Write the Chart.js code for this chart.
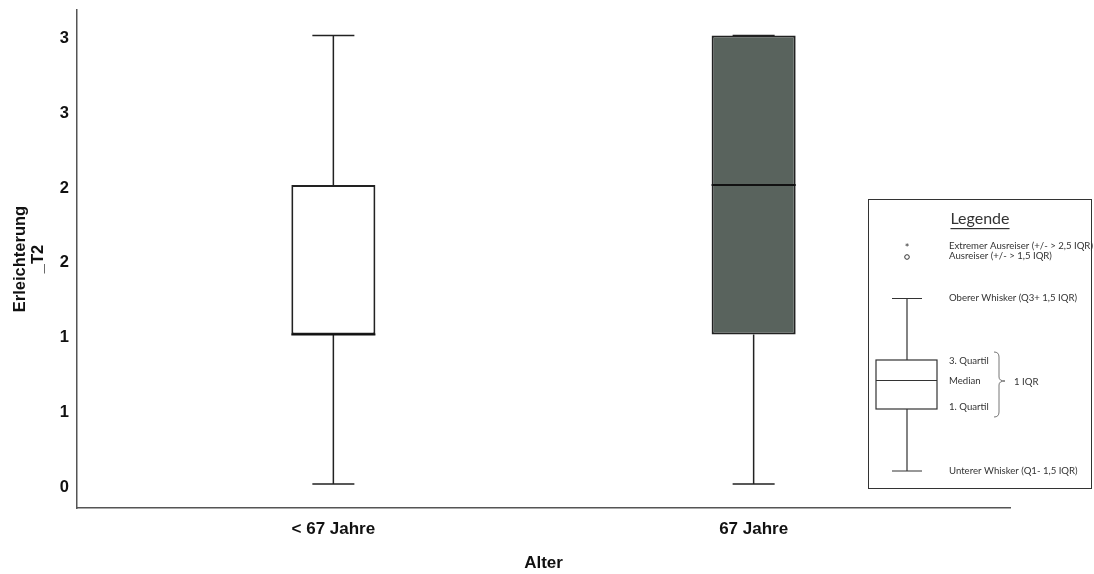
<!DOCTYPE html>
<html>
<head>
<meta charset="utf-8">
<script src="https://cdn.jsdelivr.net/npm/chart.js@4.4.1/dist/chart.umd.min.js"></script>
<style>
  html, body { margin: 0; padding: 0; background: #fff; }
  #wrap { width: 1094px; height: 574px; }
</style>
</head>
<body>
<div id="wrap"><canvas id="c" width="1094" height="574"></canvas></div>
<script>
// Age groups and the five-number summary of Erleichterung_T2 per group
const categories = ['< 67 Jahre', '67 Jahre'];
const whiskerLow  = [0, 0];
const quartile1   = [1, 1];
const medians     = [1, 2];
const quartile3   = [2, 3];
const whiskerHigh = [3, 3];
const boxColors   = ['#ffffff', '#59635d'];

// Y ticks every half unit, labelled with rounded values
const yTickValues = [0, 0.5, 1, 1.5, 2, 2.5, 3];
const yTickLabels = ['0', '1', '1', '2', '2', '3', '3'];

const boxData = categories.map((c, i) => ({ x: i, y: [quartile1[i], quartile3[i]] }));

const LINE = '#222222';

// Whiskers, caps and median lines drawn through the chart scales
const whiskerPlugin = {
  id: 'whiskers',
  beforeDatasetsDraw(chart) {
    const { ctx, scales: { x, y } } = chart;
    ctx.save();
    ctx.strokeStyle = LINE;
    ctx.lineWidth = 1.5;
    categories.forEach((c, i) => {
      const cx = x.getPixelForValue(i);
      const capL = x.getPixelForValue(i - 0.05);
      const capR = x.getPixelForValue(i + 0.05);
      const yLo = y.getPixelForValue(whiskerLow[i]);
      const yHi = y.getPixelForValue(whiskerHigh[i]);
      ctx.beginPath();
      ctx.moveTo(cx, yLo); ctx.lineTo(cx, y.getPixelForValue(quartile1[i]));
      ctx.moveTo(cx, y.getPixelForValue(quartile3[i])); ctx.lineTo(cx, yHi);
      ctx.moveTo(capL, yLo); ctx.lineTo(capR, yLo);
      ctx.moveTo(capL, yHi); ctx.lineTo(capR, yHi);
      ctx.stroke();
    });
    ctx.restore();
  },
  afterDatasetsDraw(chart) {
    const { ctx, scales: { x, y } } = chart;
    ctx.save();
    ctx.strokeStyle = '#111';
    ctx.lineWidth = 2;
    categories.forEach((c, i) => {
      const l = x.getPixelForValue(i - 0.1);
      const r = x.getPixelForValue(i + 0.1);
      const ym = y.getPixelForValue(medians[i]);
      ctx.beginPath();
      ctx.moveTo(l, ym); ctx.lineTo(r, ym);
      ctx.stroke();
    });
    ctx.restore();
  }
};

// Explanatory key for the boxplot elements, placed at the lower right
const keyPlugin = {
  id: 'boxKey',
  afterDraw(chart) {
    const ctx = chart.ctx;
    ctx.save();
    ctx.strokeStyle = '#333';
    ctx.lineWidth = 1;
    ctx.fillStyle = '#fff';
    ctx.fillRect(868.5, 199.5, 223, 289);
    ctx.strokeRect(868.5, 199.5, 223, 289);

    ctx.fillStyle = '#333';
    ctx.textBaseline = 'middle';
    ctx.textAlign = 'center';
    ctx.font = '16px Lato';
    ctx.fillText('Legende', 980, 219);
    const tw = ctx.measureText('Legende').width;
    ctx.fillRect(980 - tw / 2, 228, tw, 1.2);

    ctx.font = '11px Lato';
    ctx.fillText('*', 907, 248);
    ctx.beginPath();
    ctx.arc(907, 257, 2.3, 0, Math.PI * 2);
    ctx.lineWidth = 1;
    ctx.stroke();

    ctx.textAlign = 'left';
    ctx.font = '9.6px Lato';
    const tx = 949;
    ctx.fillText('Extremer Ausreiser (+/- > 2,5 IQR)', tx, 246);
    ctx.fillText('Ausreiser (+/- > 1,5 IQR)', tx, 256);
    ctx.fillText('Oberer Whisker (Q3+ 1,5 IQR)', tx, 298);
    ctx.fillText('3. Quartil', tx, 361);
    ctx.fillText('Median', tx, 381);
    ctx.fillText('1. Quartil', tx, 407);
    ctx.fillText('Unterer Whisker (Q1- 1,5 IQR)', tx, 471);
    ctx.fillText('1 IQR', 1014, 382);

    // miniature boxplot
    ctx.strokeStyle = '#333';
    ctx.lineWidth = 1.2;
    ctx.beginPath();
    ctx.moveTo(892, 298.5); ctx.lineTo(922, 298.5);
    ctx.moveTo(907, 298.5); ctx.lineTo(907, 360);
    ctx.moveTo(907, 409); ctx.lineTo(907, 471);
    ctx.moveTo(892, 471); ctx.lineTo(922, 471);
    ctx.moveTo(876, 380.5); ctx.lineTo(937, 380.5);
    ctx.stroke();
    ctx.strokeRect(876, 360, 61, 49);

    // brace
    ctx.lineWidth = 0.9;
    ctx.strokeStyle = '#666';
    ctx.beginPath();
    ctx.moveTo(994, 352);
    ctx.quadraticCurveTo(999, 352, 999, 357);
    ctx.lineTo(999, 377);
    ctx.quadraticCurveTo(999, 381, 1005, 381);
    ctx.moveTo(999, 385);
    ctx.quadraticCurveTo(999, 381, 1005, 381);
    ctx.moveTo(999, 385);
    ctx.lineTo(999, 412);
    ctx.quadraticCurveTo(999, 417, 994, 417);
    ctx.stroke();
    ctx.restore();
  }
};

const bgPlugin = {
  id: 'bg',
  beforeDraw(chart) {
    const ctx = chart.ctx;
    ctx.save();
    ctx.fillStyle = '#fff';
    ctx.fillRect(0, 0, chart.width, chart.height);
    ctx.restore();
  }
};

new Chart(document.getElementById('c'), {
  type: 'bar',
  data: {
    datasets: [{
      data: boxData,
      backgroundColor: boxColors,
      borderColor: LINE,
      borderWidth: 2,
      borderSkipped: false,
      categoryPercentage: 1,
      barPercentage: 0.2
    }]
  },
  options: {
    responsive: false,
    animation: false,
    layout: { padding: { left: 0, right: 84, top: 10, bottom: 0 } },
    plugins: { legend: { display: false }, tooltip: { enabled: false } },
    scales: {
      x: {
        type: 'linear',
        offset: false,
        min: -0.61,
        max: 1.61,
        afterBuildTicks(scale) { scale.ticks = categories.map((c, i) => ({ value: i })); },
        afterFit(scale) { scale.height = 66; scale.paddingLeft = 0; scale.paddingRight = 0; },
        grid: { display: false, drawTicks: false, offset: false },
        border: { display: true, color: '#555', width: 1.5 },
        ticks: {
          callback: (v) => categories[v],
          color: '#111',
          padding: 11,
          maxRotation: 0,
          font: { family: 'Liberation Sans', size: 17, weight: 'bold' }
        },
        title: {
          display: true,
          text: 'Alter',
          color: '#111',
          padding: { top: 13, bottom: 0 },
          font: { family: 'Liberation Sans', size: 17, weight: 'bold' }
        }
      },
      y: {
        min: -0.16,
        max: 3.17,
        afterBuildTicks(scale) { scale.ticks = yTickValues.map(v => ({ value: v })); },
        afterFit(scale) { scale.width = 77; scale.paddingTop = 0; scale.paddingBottom = 0; },
        grid: { display: false, drawTicks: false },
        border: { display: true, color: '#555', width: 1.5 },
        ticks: {
          callback: (v, i) => yTickLabels[i],
          color: '#111',
          padding: 8,
          labelOffset: 3,
          font: { family: 'Liberation Sans', size: 16.5, weight: 'bold' }
        },
        title: {
          display: true,
          text: ['Erleichterung', '_T2'],
          color: '#111',
          padding: { top: 12, bottom: 0 },
          font: { family: 'Liberation Sans', size: 16.5, weight: 'bold', lineHeight: 1.05 }
        }
      }
    }
  },
  plugins: [bgPlugin, whiskerPlugin, keyPlugin]
});
</script>
</body>
</html>
